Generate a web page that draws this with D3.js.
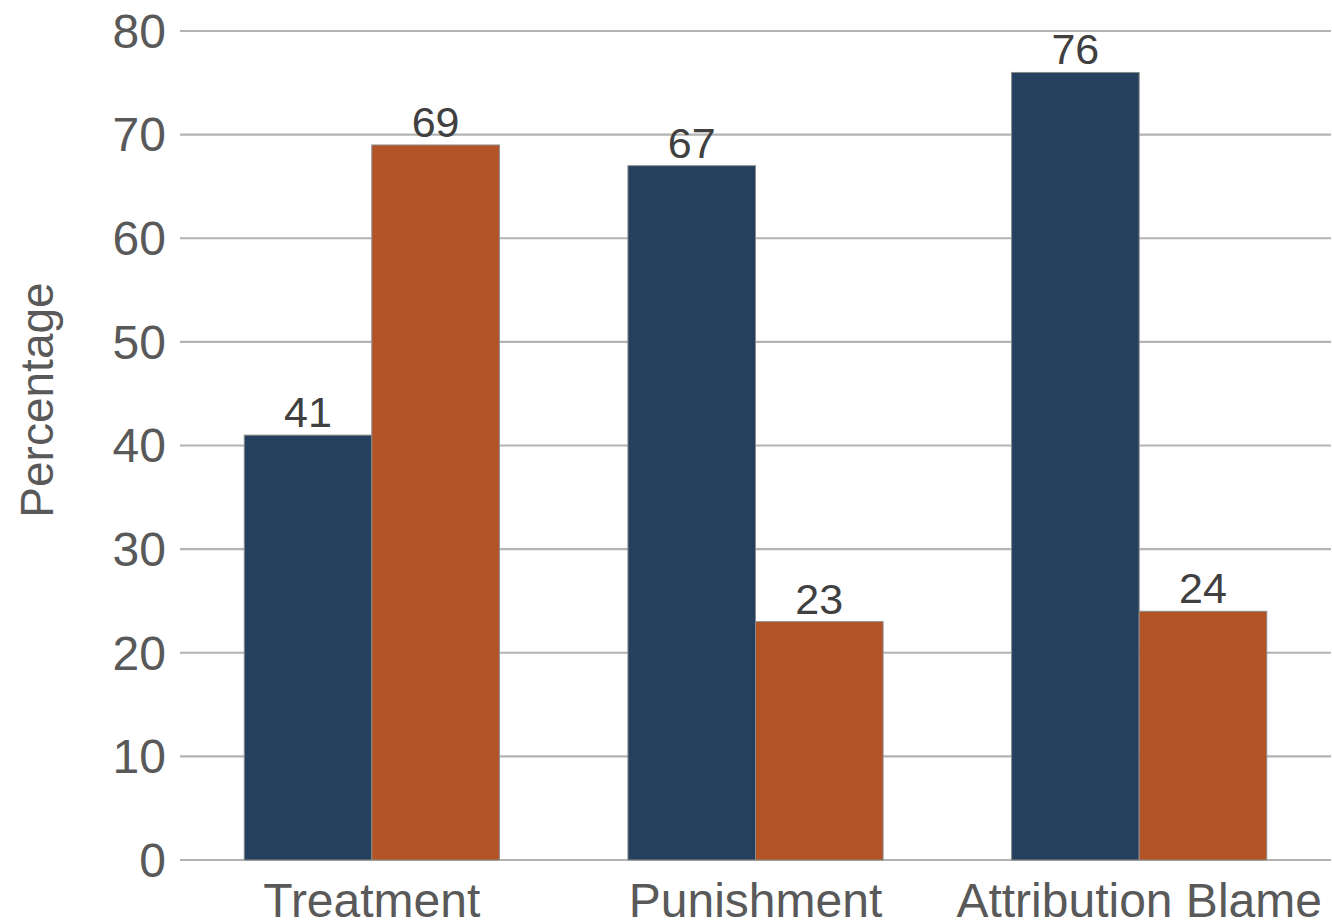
<!DOCTYPE html>
<html>
<head>
<meta charset="utf-8">
<script src="https://cdn.jsdelivr.net/npm/d3@7"></script>
<style>
  html, body { margin: 0; padding: 0; background: #fff; }
  svg { display: block; font-family: "Liberation Sans", Arial, sans-serif; }
</style>
</head>
<body>
<svg id="chart" width="1332" height="922"></svg>
<script>
// Grouped bar chart data
const categories = ["Treatment", "Punishment", "Attribution Blame"];
const seriesNames = ["A", "B"];
const seriesA = [41, 67, 76];
const seriesB = [69, 23, 24];
const yTicks = [0, 10, 20, 30, 40, 50, 60, 70, 80];
const colors = ["#25405f", "#b25426"];

const svg = d3.select("#chart");
const plotLeft = 180, plotRight = 1331, plotTop = 31, plotBottom = 860;

const x = d3.scaleBand().domain(categories).range([plotLeft, plotRight]).paddingInner(0.335).paddingOuter(0.1675);
const xs = d3.scaleBand().domain(seriesNames).range([0, x.bandwidth()]).padding(0);
const y = d3.scaleLinear().domain([0, 80]).range([plotBottom, plotTop]);

// Horizontal gridlines
svg.append("g").selectAll("line").data(yTicks).join("line")
  .attr("x1", plotLeft).attr("x2", plotRight)
  .attr("y1", d => y(d)).attr("y2", d => y(d))
  .attr("stroke", "#b3b3b3").attr("stroke-width", 2.2);

// Y tick labels
svg.append("g").selectAll("text").data(yTicks).join("text")
  .attr("x", 166).attr("y", d => y(d))
  .attr("dy", "0.35em")
  .attr("text-anchor", "end")
  .attr("font-size", 48).attr("fill", "#595959")
  .text(d => d);

// Y axis title
svg.append("text")
  .attr("transform", "translate(53,400) rotate(-90)")
  .attr("text-anchor", "middle")
  .attr("font-size", 46).attr("fill", "#595959")
  .text("Percentage");

const rows = categories.map((c, i) => ({ cat: c, values: [seriesA[i], seriesB[i]] }));

const groups = svg.append("g").selectAll("g").data(rows).join("g")
  .attr("transform", d => `translate(${x(d.cat)},0)`);

groups.selectAll("rect").data(d => d.values.map((v, j) => ({ key: seriesNames[j], v, j }))).join("rect")
  .attr("x", d => xs(d.key))
  .attr("width", xs.bandwidth())
  .attr("y", d => y(d.v))
  .attr("height", d => y(0) - y(d.v))
  .attr("fill", d => colors[d.j])
  .attr("stroke", "#8a8a8a").attr("stroke-width", 1);

groups.selectAll("text").data(d => d.values.map((v, j) => ({ key: seriesNames[j], v, j }))).join("text")
  .attr("x", d => xs(d.key) + xs.bandwidth() / 2)
  .attr("y", d => y(d.v) - 8)
  .attr("text-anchor", "middle")
  .attr("font-size", 43).attr("fill", "#404040")
  .text(d => d.v);

// Category labels
svg.append("g").selectAll("text").data(categories).join("text")
  .attr("x", d => x(d) + x.bandwidth() / 2)
  .attr("y", 917)
  .attr("text-anchor", "middle")
  .attr("font-size", 48).attr("fill", "#595959")
  .text(d => d);
</script>
</body>
</html>
